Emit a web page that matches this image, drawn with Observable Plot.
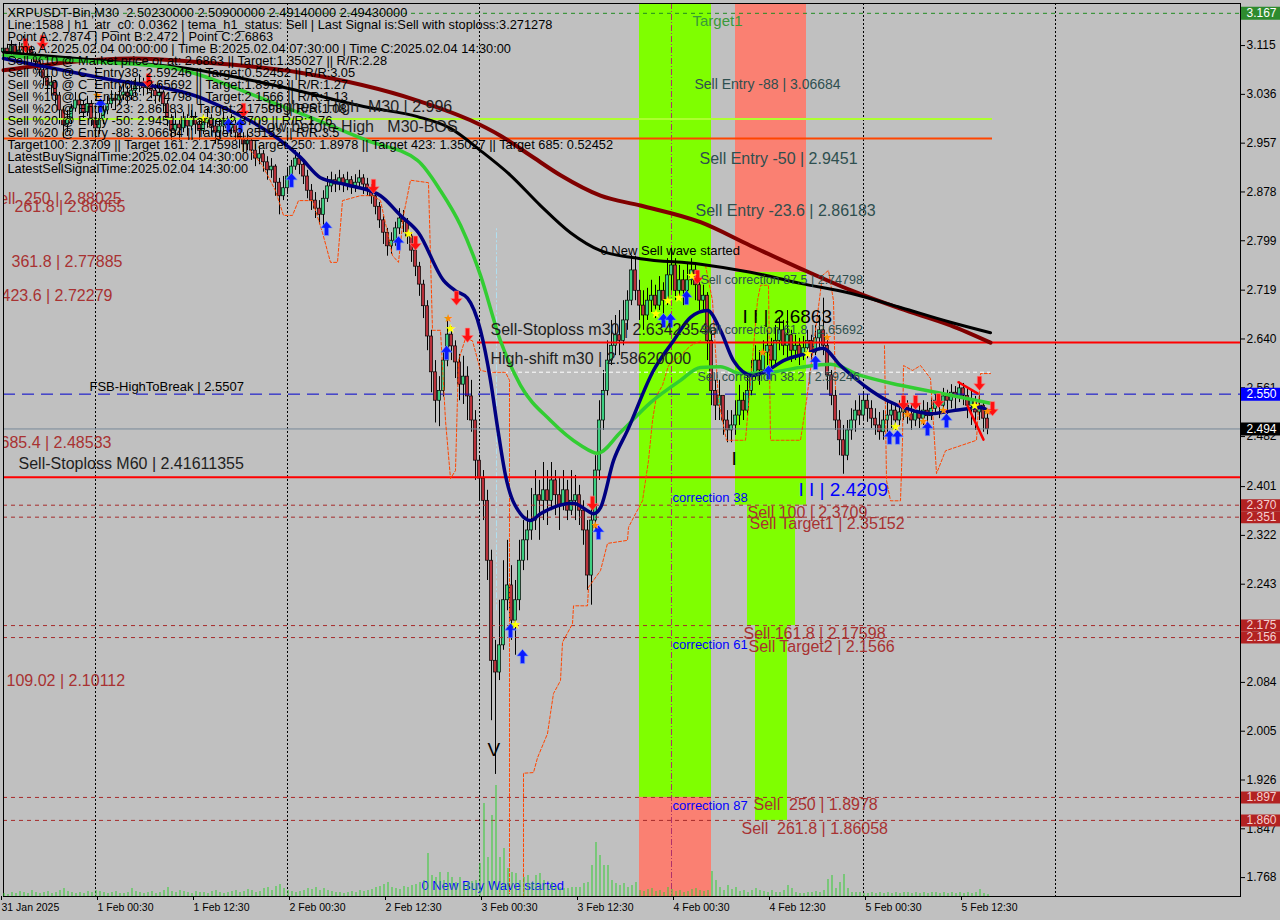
<!DOCTYPE html>
<html><head><meta charset="utf-8">
<script src="https://cdn.jsdelivr.net/npm/d3@7"></script>
<script src="https://cdn.jsdelivr.net/npm/@observablehq/plot@0.6"></script>
<style>
html,body{margin:0;padding:0;background:#c0c0c0;}
#wrap{position:relative;width:1280px;height:920px;overflow:hidden;}
#wrap svg{position:absolute;left:0;top:0;}
</style></head><body><div id="wrap"></div>
<script>
// ---------- DATA (bar index = 30-minute bars from 31 Jan 2025 12:30) ----------
const open0 = 3.104;
const close = [
3.110,3.104,3.114,3.099,3.107,3.117,3.107,3.094,3.088,3.075,
3.062,3.050,3.055,3.034,3.010,2.986,2.997,3.013,3.026,3.018,
3.007,3.020,2.997,2.981,2.994,3.010,3.020,3.029,3.026,3.034,
3.039,3.033,3.042,3.049,3.055,3.046,3.052,3.042,3.033,3.039,
3.020,2.997,2.977,2.987,2.981,2.994,2.984,2.997,2.987,2.977,
2.990,2.997,2.984,2.974,2.984,2.994,2.981,2.987,2.974,2.964,
2.955,2.961,2.945,2.932,2.939,2.926,2.913,2.919,2.893,2.871,
2.884,2.903,2.919,2.932,2.922,2.903,2.880,2.864,2.851,2.841,
2.867,2.887,2.897,2.890,2.900,2.890,2.897,2.887,2.893,2.900,
2.890,2.884,2.871,2.854,2.832,2.812,2.790,2.799,2.819,2.835,
2.829,2.806,2.783,2.757,2.728,2.693,2.644,2.586,2.540,2.556,
2.605,2.647,2.628,2.602,2.566,2.579,2.547,2.508,2.443,2.414,
2.378,2.281,2.119,2.100,2.144,2.217,2.241,2.184,2.217,2.281,
2.314,2.330,2.346,2.387,2.378,2.395,2.378,2.411,2.387,2.370,
2.395,2.362,2.378,2.387,2.362,2.330,2.257,2.346,2.427,2.508,
2.556,2.605,2.629,2.646,2.637,2.670,2.702,2.751,2.718,2.694,
2.678,2.702,2.710,2.694,2.718,2.702,2.743,2.759,2.718,2.735,
2.718,2.735,2.751,2.727,2.702,2.710,2.637,2.556,2.532,2.548,
2.508,2.492,2.500,2.516,2.540,2.524,2.556,2.581,2.605,2.589,
2.618,2.629,2.605,2.637,2.654,2.629,2.646,2.621,2.629,2.613,
2.625,2.637,2.618,2.641,2.654,2.629,2.581,2.548,2.508,2.476,
2.451,2.492,2.508,2.524,2.516,2.540,2.527,2.511,2.500,2.489,
2.508,2.516,2.524,2.508,2.521,2.532,2.518,2.508,2.521,2.511,
2.524,2.515,2.527,2.540,2.532,2.547,2.540,2.553,2.547,2.560,
2.548,2.532,2.540,2.521,2.532,2.511,2.494];
const high = [
3.123,3.117,3.123,3.117,3.120,3.130,3.123,3.114,3.104,3.094,
3.081,3.068,3.065,3.058,3.039,3.016,3.010,3.020,3.039,3.036,
3.026,3.033,3.026,3.007,3.013,3.026,3.033,3.042,3.039,3.049,
3.052,3.049,3.058,3.062,3.068,3.062,3.065,3.058,3.052,3.052,
3.042,3.026,3.003,3.007,2.997,3.007,3.003,3.010,3.007,2.997,
3.003,3.013,3.003,2.994,2.997,3.007,3.000,3.003,2.994,2.984,
2.974,2.977,2.964,2.955,2.952,2.945,2.935,2.932,2.922,2.900,
2.903,2.916,2.929,2.945,2.942,2.929,2.913,2.890,2.877,2.864,
2.880,2.903,2.910,2.906,2.913,2.906,2.910,2.903,2.906,2.913,
2.906,2.900,2.890,2.877,2.861,2.838,2.819,2.812,2.829,2.851,
2.848,2.835,2.812,2.790,2.764,2.735,2.702,2.654,2.605,2.579,
2.621,2.673,2.660,2.637,2.615,2.612,2.595,2.573,2.524,2.451,
2.427,2.395,2.298,2.152,2.217,2.281,2.314,2.273,2.249,2.314,
2.346,2.362,2.398,2.427,2.411,2.440,2.427,2.440,2.427,2.414,
2.427,2.411,2.427,2.419,2.403,2.378,2.346,2.378,2.451,2.540,
2.589,2.637,2.670,2.678,2.686,2.702,2.718,2.775,2.774,2.735,
2.718,2.722,2.735,2.727,2.741,2.731,2.770,2.787,2.770,2.759,
2.751,2.764,2.770,2.761,2.738,2.727,2.715,2.654,2.573,2.573,
2.548,2.524,2.524,2.540,2.565,2.553,2.581,2.605,2.629,2.621,
2.637,2.654,2.641,2.662,2.673,2.670,2.686,2.654,2.646,2.641,
2.644,2.654,2.646,2.662,2.678,2.706,2.637,2.589,2.557,2.524,
2.500,2.508,2.527,2.540,2.548,2.553,2.550,2.540,2.527,2.521,
2.524,2.540,2.537,2.534,2.540,2.547,2.540,2.534,2.537,2.534,
2.540,2.537,2.544,2.553,2.550,2.560,2.557,2.566,2.563,2.570,
2.568,2.560,2.557,2.547,2.548,2.537,2.524];
const low = [
3.099,3.094,3.097,3.091,3.094,3.101,3.097,3.084,3.075,3.065,
3.049,3.039,3.033,3.020,2.987,2.964,2.974,2.987,3.007,3.003,
2.994,3.000,2.984,2.958,2.971,2.987,3.003,3.013,3.010,3.020,
3.026,3.020,3.026,3.033,3.039,3.033,3.036,3.029,3.020,3.023,
3.007,2.984,2.961,2.968,2.961,2.974,2.968,2.977,2.971,2.961,
2.971,2.981,2.968,2.955,2.964,2.974,2.968,2.971,2.961,2.948,
2.942,2.945,2.929,2.919,2.922,2.910,2.897,2.900,2.871,2.841,
2.864,2.874,2.893,2.913,2.906,2.890,2.867,2.848,2.835,2.825,
2.822,2.861,2.877,2.877,2.880,2.877,2.880,2.874,2.877,2.884,
2.874,2.871,2.858,2.841,2.819,2.793,2.774,2.777,2.790,2.809,
2.812,2.793,2.764,2.741,2.709,2.673,2.621,2.553,2.504,2.498,
2.546,2.595,2.605,2.576,2.540,2.534,2.508,2.489,2.411,2.378,
2.346,2.249,2.022,1.935,2.087,2.136,2.200,2.152,2.128,2.200,
2.265,2.281,2.314,2.330,2.314,2.346,2.338,2.362,2.354,2.330,
2.362,2.346,2.354,2.346,2.338,2.306,2.233,2.209,2.330,2.411,
2.492,2.548,2.597,2.613,2.613,2.629,2.654,2.694,2.702,2.670,
2.654,2.670,2.683,2.673,2.686,2.678,2.694,2.718,2.702,2.706,
2.694,2.709,2.727,2.702,2.686,2.683,2.605,2.532,2.508,2.508,
2.484,2.472,2.472,2.484,2.500,2.508,2.516,2.548,2.573,2.565,
2.581,2.597,2.586,2.597,2.621,2.613,2.608,2.602,2.605,2.597,
2.605,2.608,2.602,2.613,2.621,2.613,2.557,2.532,2.492,2.451,
2.421,2.443,2.476,2.489,2.500,2.508,2.505,2.495,2.484,2.476,
2.476,2.489,2.495,2.492,2.498,2.508,2.502,2.492,2.498,2.495,
2.500,2.495,2.508,2.516,2.511,2.524,2.518,2.527,2.524,2.537,
2.532,2.511,2.500,2.492,2.508,2.489,2.485];
// tick volume (hundreds of ticks)
const volume = [
3,2,4,3,5,4,3,6,4,3, 4,5,3,4,6,8,5,4,3,4, 3,5,4,6,5,4,3,4,5,3, 3,4,8,5,4,3,4,5,3,4,
6,9,5,4,6,5,4,3,5,4, 4,3,5,6,4,3,4,5,6,4, 5,7,6,4,5,8,9,6,10,12, 8,6,5,4,5,6,8,7,9,6,
8,6,5,4,4,3,4,5,4,6, 5,6,7,9,10,12,14,9,8,7, 10,9,11,12,14,16,43,21,19,24, 16,24,19,14,19,13,14,15,16,33,
93,39,81,111,39,48,28,24,23,16, 19,21,14,21,23,16,11,14,10,9, 8,8,9,9,9,13,14,31,54,41, 31,31,16,13,11,13,9,11,14,6,
5,7,8,5,6,4,9,7,5,6, 4,5,7,8,6,5,6,25,16,9, 6,11,7,9,5,6,4,6,8,6, 5,4,6,4,4,6,11,8,4,3,
3,4,4,5,4,6,17,21,8,14, 22,8,4,4,4,3,3,4,3,4, 3,4,3,4,3,4,4,3,4,3, 4,3,4,4,3,4,3,4,3,4, 3,4,3,4,7,3,2];

// moving averages [bar index, price]
const maBlack = [[0,3.104],[24.25,3.091],[46,3.078],[71,3.046],[91,3.015],[103.5,3.000],[111.75,2.981],[119.25,2.945],[126.75,2.905],[134.25,2.856],[141.75,2.812],[149.25,2.783],[159.25,2.770],[174.25,2.761],[186.75,2.748],[199.25,2.730],[211.75,2.714],[224.25,2.691],[236.75,2.667],[246.75,2.650]];
const maRed = [[0,3.075],[32.5,3.094],[49.25,3.088],[74.25,3.071],[103.5,3.026],[116.75,2.994],[124.25,2.969],[131.75,2.937],[139.25,2.905],[149.25,2.872],[159.25,2.856],[174.25,2.829],[186.75,2.791],[199.25,2.754],[211.75,2.719],[224.25,2.689],[236.75,2.662],[246.75,2.634]];
const maGreen = [[0,3.099],[24.25,3.088],[41,3.080],[66,3.026],[91,2.961],[103.5,2.929],[109.25,2.880],[114.25,2.824],[119.25,2.743],[124.25,2.637],[129.25,2.565],[136.75,2.508],[144.25,2.468],[148.5,2.455],[154.25,2.489],[161.75,2.537],[169.25,2.573],[174.25,2.594],[179.25,2.595],[184.25,2.584],[191.75,2.586],[199.25,2.594],[206.75,2.599],[214.25,2.581],[224.25,2.565],[236.75,2.549],[246.75,2.536]];
const maNavy = [[0,3.094],[24.25,3.063],[51,3.026],[74.25,2.934],[79.25,2.901],[85.5,2.890],[94.25,2.872],[99.25,2.840],[103.75,2.812],[110,2.735],[113,2.718],[116,2.706],[119.25,2.654],[121.75,2.573],[123.5,2.497],[125.5,2.419],[129.25,2.357],[131.75,2.346],[134.25,2.357],[142.5,2.374],[146,2.362],[147.5,2.357],[149.25,2.367],[152.5,2.443],[156,2.492],[162.5,2.589],[167.5,2.637],[171.75,2.675],[176,2.686],[179.25,2.654],[182.5,2.605],[187.25,2.581],[191,2.589],[195,2.605],[201,2.617],[204.75,2.625],[209.25,2.597],[216.75,2.557],[221,2.540],[227.5,2.524],[231.75,2.519],[237.5,2.524],[241,2.527],[244.25,2.529],[246.75,2.521]];
// orange dashed trailing lines
const trail1 = [[61.75,2.945],[64.75,2.921],[68,2.880],[70,2.840],[72.25,2.840],[73.75,2.864],[77.25,2.864],[79.75,2.812],[81.75,2.764],[83.5,2.764],[84.75,2.864],[89.25,2.872],[92.25,2.872],[94.25,2.864],[97.25,2.775],[98.75,2.764],[100,2.840],[101.75,2.897],[106.25,2.893],[107.25,2.654],[109.25,2.654],[110.5,2.508],[111.75,2.414],[113,2.427],[113.75,2.605],[115.5,2.641],[117.25,2.637],[119.25,2.589],[121.75,2.586],[125.5,2.586],[126.5,2.573],[126.5,1.742]];
const trail2 = [[130,1.737],[130,1.937],[132.5,1.938],[133.5,1.962],[136,2.001],[136.75,2.034],[137.5,2.066],[139.25,2.087],[139.75,2.149],[142.25,2.179],[142.5,2.208],[146,2.208],[146.25,2.238],[149.25,2.265],[151,2.309],[156,2.314],[156.25,2.335],[158,2.357],[159.75,2.378],[161.25,2.443],[162.25,2.508],[163.25,2.548],[164.75,2.565],[166.25,2.597],[169.25,2.613],[171.75,2.629],[174.25,2.637]];
const trail3 = [[175.5,2.759],[177.25,2.702],[178.75,2.540],[180.75,2.476],[185.5,2.476],[188.5,2.702],[189.25,2.727],[191.25,2.727],[191.75,2.476],[199.25,2.476],[200.75,2.540],[203,2.654],[204.75,2.743],[206.25,2.751],[207.5,2.702],[208,2.557]];
const trail4 = [[220.25,2.629],[220.75,2.411],[221.75,2.378],[224.25,2.378],[224.75,2.476],[225,2.597],[227.25,2.589],[229.25,2.597],[231.75,2.576],[232.75,2.476],[233.25,2.422],[235.5,2.459],[243.25,2.476],[244.25,2.584],[246.75,2.584]];
const zigzag = [[[238.75,2.570],[243.5,2.552]],[[241,2.532],[245,2.477]]];

// signals
const buyArrows = [[72,2.897],[80.75,2.819],[98.75,2.795],[110.75,2.618],[126.75,2.168],[129.75,2.126],[148.75,2.327],[165,2.670],[166.75,2.670],[170.75,2.707],[191.25,2.586],[203,2.602],[221.5,2.481],[223.5,2.481],[231,2.495],[235.75,2.508],[24.25,3.018],[56.25,2.986],[59.25,2.986]];
const sellArrows = [[92.5,2.887],[103,2.795],[113.25,2.706],[116,2.646],[147.25,2.374],[173.5,2.740],[225,2.537],[228,2.537],[233.75,2.540],[244,2.568],[247.25,2.527],[5.5,3.115],[9.75,3.120],[36.25,3.058],[60,3.010]];
const yellowStars = [[101.25,2.811],[111.75,2.657],[128,2.178],[163,2.681],[166,2.701],[168.75,2.706],[172,2.743],[201,2.616],[223,2.497],[242.75,2.531],[50,2.997]];
const orangeStars = [[148,2.338],[189.75,2.618],[206,2.642],[226,2.518],[230,2.506],[235,2.524],[246,2.523],[23.5,3.034],[111.25,2.673]];

// zones [start bar, end bar, low price, high price]
const buyZones = [[159,177,1.8978,3.1831],[183,200.75,2.3709,2.74798],[186,198,2.17598,2.3709],[188,196,1.86058,2.17598]];
const sellZones = [[159,177,1.7374,1.8978],[183,200.75,2.74798,3.1831]];

// levels
const levelTarget = 3.1672, levelHighest = 2.996, levelBOS = 2.9645, levelSL30 = 2.63423546,
      levelShift = 2.5862, levelFSB = 2.5507, lastPrice = 2.4943, levelSL60 = 2.41611355;
const targetLevels = [2.3709, 2.35152, 2.17598, 2.1566, 1.8978, 1.86058];
const daySeps = [23, 71, 119, 215, 263];
const timeABar = 167;

// axes
const xTickIdx = [0,24,48,72,96,120,144,168,192,216,240];
const xTickLabels = ["31 Jan 2025","1 Feb 00:30","1 Feb 12:30","2 Feb 00:30","2 Feb 12:30","3 Feb 00:30","3 Feb 12:30","4 Feb 00:30","4 Feb 12:30","5 Feb 00:30","5 Feb 12:30"];
const yTicks = [3.115,3.036,2.957,2.878,2.799,2.719,2.640,2.561,2.482,2.401,2.322,2.243,2.164,2.084,2.005,1.926,1.847,1.768];
const flagsGreen = [[3.1672,"3.167"]];
const flagsBlue = [[2.5507,"2.550"]];
const flagsBlack = [[2.4943,"2.494"]];
const flagsRed = [[2.3709,"2.370"],[2.35152,"2.351"],[2.17598,"2.175"],[2.1566,"2.156"],[1.8978,"1.897"],[1.86058,"1.860"]];

// texts [text, bar index, price]
const infoLines = [
"XRPUSDT-Bin,M30  2.50230000 2.50900000 2.49140000 2.49430000",
"Line:1588 | h1_atr_c0: 0.0362 | tema_h1_status: Sell | Last Signal is:Sell with stoploss:3.271278",
"Point A:2.7874 | Point B:2.472 | Point C:2.6863",
"Time A:2025.02.04 00:00:00 | Time B:2025.02.04 07:30:00 | Time C:2025.02.04 14:30:00",
"Sell %10 @ Market price or at: 2.6863 || Target:1.35027 || R/R:2.28",
"Sell %10 @ C_Entry38: 2.59246 || Target:0.52452 || R/R:3.05",
"Sell %10 @ C_Entry61: 2.65692 || Target:1.8978 || R/R:1.27",
"Sell %10 @ C_Entry88: 2.74798 || Target:2.1566 || R/R:1.13",
"Sell %20 @ Entry -23: 2.86183 || Target:2.17598 || R/R:1.08",
"Sell %20 @ Entry -50: 2.9451 || Target:2.3709 || R/R:1.76",
"Sell %20 @ Entry -88: 3.06684 || Target:2.35152 || R/R:3.5",
"Target100: 2.3709 || Target 161: 2.17598 || Target 250: 1.8978 || Target 423: 1.35027 || Target 685: 0.52452",
"LatestBuySignalTime:2025.02.04 04:30:00",
"LatestSellSignalTime:2025.02.04 14:30:00"];
const darkLabels = [["Highest High  M30 | 2.996",66,3.016],["Low before High   M30-BOS",63.5,2.984],["Sell-Stoploss m30 | 2.63423546",121.75,2.654],["High-shift m30 | 2.58620000",121.75,2.607],["Sell-Stoploss M60 | 2.41611355",3.75,2.437]];
const entryLabels = [["Sell Entry -88 | 3.06684",172.75,3.052,14],["Sell Entry -50 | 2.9451",174,2.931,16],["Sell Entry -23.6 | 2.86183",173,2.848,16]];
const greenLabels = [["Target1",172.25,3.154]];
const corrLabels = [["Sell correction 87.5 | 2.74798",174.25,2.735],["Sell correction 61.8 | 2.65692",174.25,2.654],["Sell correction 38.2 | 2.59246",173.5,2.579]];
const blueSmallLabels = [["correction 38",167.25,2.383],["correction 61",167.25,2.145],["correction 87",167.25,1.885],["0 New Buy Wave started",104.5,1.755]];
const blackSmallLabels = [["0 New Sell wave started",149.25,2.783],["FSB-HighToBreak | 2.5507",21.5,2.563]];
const redLabels = [["Sell 100 | 2.3709",186,2.359],["Sell Target1 | 2.35152",186.5,2.340],["Sell 161.8 | 2.17598",185,2.163],["Sell Target2 | 2.1566",186.25,2.142],["Sell  250 | 1.8978",187.5,1.885],["Sell  261.8 | 1.86058",184.5,1.847],
  ["Sell  250 | 2.88025",-3.75,2.867],["261.8 | 2.86055",2.75,2.854],["361.8 | 2.77885",2,2.765],["423.6 | 2.72279",-0.5,2.709],["685.4 | 2.48533",-0.75,2.472],["109.02 | 2.10112",0.75,2.087]];
const waveLabels = [["I I | 2.6863",184.75,2.675,"#000"],["I I | 2.4209",198.75,2.396,"#0000ff"],["V",121,1.974,"#000"],["I",182,2.446,"#000"]];

// ---------- BUILD ----------
const N = Math.min(close.length, high.length, low.length);
const bars = [];
for (let i = 0; i < N; i++) {
  const o = i ? close[i-1] : open0, c = close[i];
  bars.push({i, o, c, h: Math.max(high[i], o, c), l: Math.min(low[i], o, c)});
}
const X = [0, 309.25], Y = [1.7374, 3.1831];
const AR = "Liberation Sans, Arial, sans-serif";
const DJ = "DejaVu Sans, sans-serif";
const dims = {width:1280, height:920, marginLeft:3, marginRight:40, marginTop:3, marginBottom:24};
const lbl = (arr, o) => Plot.text(arr, {x:d=>d[1], y:d=>d[2], text:d=>d[0], textAnchor:"start", fontFamily:AR, ...o});
const xMap = new Map(xTickIdx.map((d,k)=>[d, xTickLabels[k]]));

// thick arrow symbols (MT-style signal arrows)
function arrowSymbol(dir) {
  return {draw(ctx, size) {
    const s = Math.sqrt(size), w = s * 0.5, h = s * 0.62, k = dir;
    ctx.moveTo(0, -h * k);
    ctx.lineTo(w, -h * 0.05 * k);
    ctx.lineTo(w * 0.38, -h * 0.05 * k);
    ctx.lineTo(w * 0.38, h * k);
    ctx.lineTo(-w * 0.38, h * k);
    ctx.lineTo(-w * 0.38, -h * 0.05 * k);
    ctx.lineTo(-w, -h * 0.05 * k);
    ctx.closePath();
  }};
}

const main = Plot.plot({
  ...dims,
  x:{type:"linear", domain:X}, y:{type:"linear", domain:Y},
  style:{background:"#c0c0c0", fontFamily:DJ, color:"#000"},
  marks:[
    Plot.rect(buyZones, {x1:d=>d[0], x2:d=>d[1], y1:d=>d[2], y2:d=>d[3], fill:"#7fff00"}),
    Plot.rect(sellZones, {x1:d=>d[0], x2:d=>d[1], y1:d=>d[2], y2:d=>d[3], fill:"#fa8072"}),
    Plot.ruleX(daySeps, {stroke:"#000", strokeDasharray:"2,2", strokeWidth:1}),
    Plot.ruleX([timeABar], {stroke:"#b0306a", strokeDasharray:"6,2,1,2", strokeWidth:1}),
    Plot.ruleX([123.25], {y1:2.20, y2:2.82, stroke:"#b0dff0", strokeDasharray:"6,2,2,2"}),
    // candles
    Plot.ruleX(bars, {x:"i", y1:"l", y2:"h", stroke:"#000", strokeWidth:1}),
    Plot.rect(bars.filter(d=>d.c>=d.o), {x1:d=>d.i-0.38, x2:d=>d.i+0.38, y1:"o", y2:"c", fill:"#3ccf80", stroke:"#000", strokeWidth:0.7}),
    Plot.rect(bars.filter(d=>d.c<d.o), {x1:d=>d.i-0.38, x2:d=>d.i+0.38, y1:"o", y2:"c", fill:"#b8303a", stroke:"#000", strokeWidth:0.7}),
    // horizontal levels
    Plot.ruleY([levelTarget], {stroke:"#228b22", strokeDasharray:"4,4"}),
    Plot.ruleY([levelHighest], {x1:0, x2:247.25, stroke:"#adff2f", strokeWidth:2}),
    Plot.ruleY([levelBOS], {x1:0, x2:247.25, stroke:"#ff4500", strokeWidth:2}),
    Plot.ruleY(targetLevels, {stroke:"#a52a2a", strokeDasharray:"4,4"}),
    Plot.ruleY([levelFSB], {stroke:"#0000cd", strokeDasharray:"12,7"}),
    Plot.ruleY([lastPrice], {stroke:"#778899"}),
    Plot.ruleY([levelShift], {x1:121.75, x2:246.75, stroke:"#ffffff", strokeDasharray:"4,3"}),
    Plot.ruleY([levelSL30], {x1:118.5, x2:309.25, stroke:"#ff0000", strokeWidth:2}),
    Plot.ruleY([levelSL60], {stroke:"#ff0000", strokeWidth:2}),
    // trailing lines
    ...[trail1, trail2, trail3, trail4].map(t => Plot.line(t, {stroke:"#ff4500", strokeWidth:1, strokeDasharray:"3,2"})),
    // moving averages
    Plot.line(maRed, {stroke:"#800000", strokeWidth:4, curve:"monotone-x"}),
    Plot.line(maBlack, {stroke:"#000000", strokeWidth:3, curve:"monotone-x"}),
    Plot.line(maGreen, {stroke:"#32cd32", strokeWidth:3.5, curve:"monotone-x"}),
    Plot.line(maNavy, {stroke:"#000080", strokeWidth:3.5, curve:"monotone-x"}),
    ...zigzag.map(z => Plot.line(z, {stroke:"#ff0000", strokeWidth:2.5})),
    // signals
    Plot.dot(buyArrows, {symbol:arrowSymbol(1), r:6.5, fill:"#0a1aff", stroke:"#7b9cff", strokeWidth:0.6}),
    Plot.dot(sellArrows, {symbol:arrowSymbol(-1), r:6.5, fill:"#ff1010", stroke:"#ff8080", strokeWidth:0.6}),
    Plot.text(yellowStars, {text:()=>"★", fill:"#ffff00", fontSize:13, fontFamily:DJ}),
    Plot.text(orangeStars, {text:()=>"★", fill:"#ff8c00", fontSize:11, fontFamily:DJ}),
    // labels
    lbl(darkLabels, {fill:"#1e1e1e", fontSize:16}),
    Plot.text(entryLabels, {x:d=>d[1], y:d=>d[2], text:d=>d[0], textAnchor:"start", fontFamily:AR, fill:"#2f4f4f", fontSize:d=>d[3]}),
    lbl(greenLabels, {fill:"#3a9a3a", fontSize:15}),
    lbl(corrLabels, {fill:"#2f4f4f", fontSize:12.5}),
    lbl(blueSmallLabels, {fill:"#0000ff", fontSize:13}),
    lbl(blackSmallLabels, {fill:"#000", fontSize:13}),
    lbl(redLabels, {fill:"#a83232", fontSize:16, clip:true}),
    Plot.text(waveLabels, {x:d=>d[1], y:d=>d[2], text:d=>d[0], textAnchor:"start", fontFamily:AR, fontSize:19, fill:d=>d[3]}),
    Plot.text([infoLines.join("\n")], {text:d=>d, frameAnchor:"top-left", dx:4, dy:5, lineAnchor:"top", textAnchor:"start", fontSize:12.8, lineHeight:0.9375, fontFamily:AR, fill:"#000"}),
    Plot.frame({stroke:"#000"}),
    Plot.axisX(xTickIdx, {tickFormat:d=>xMap.get(d), textAnchor:"start", tickSize:4, tickPadding:3, fontSize:10.5, fontFamily:AR, dx:-2, label:null}),
    Plot.axisY(yTicks, {anchor:"right", tickSize:4, tickPadding:2, tickFormat:d=>d.toFixed(3), fontSize:12, fontFamily:AR, label:null}),
    // axis flags
    Plot.ruleY(flagsGreen, {y:d=>d[0], x1:309.5, x2:330, stroke:"#2e8b2e", strokeWidth:13}),
    Plot.ruleY(flagsBlue, {y:d=>d[0], x1:309.5, x2:330, stroke:"#0000ff", strokeWidth:13}),
    Plot.ruleY(flagsBlack, {y:d=>d[0], x1:309.5, x2:330, stroke:"#000000", strokeWidth:13}),
    Plot.ruleY(flagsRed, {y:d=>d[0], x1:309.5, x2:330, stroke:"#b22222", strokeWidth:12}),
    Plot.text([...flagsGreen, ...flagsBlue, ...flagsBlack], {x:310.75, y:d=>d[0], text:d=>d[1], textAnchor:"start", fill:"#ffffff", fontSize:12, fontFamily:AR}),
    Plot.text(flagsRed, {x:310.75, y:d=>d[0], text:d=>d[1], textAnchor:"start", fill:"#f4d0d0", fontSize:12, fontFamily:AR})
  ]
});

const vol = Plot.plot({
  ...dims,
  x:{type:"linear", domain:X, axis:null}, y:{domain:[0, 893], axis:null},
  style:{background:"transparent"},
  marks:[
    Plot.ruleX(volume.map((v,i)=>({i, v})), {x:"i", y1:0, y2:"v", stroke:"#32cd32", strokeWidth:1, dx:0.5})
  ]
});
vol.style.pointerEvents = "none";
const wrap = document.getElementById("wrap");
wrap.appendChild(main);
wrap.appendChild(vol);
</script></body></html>
